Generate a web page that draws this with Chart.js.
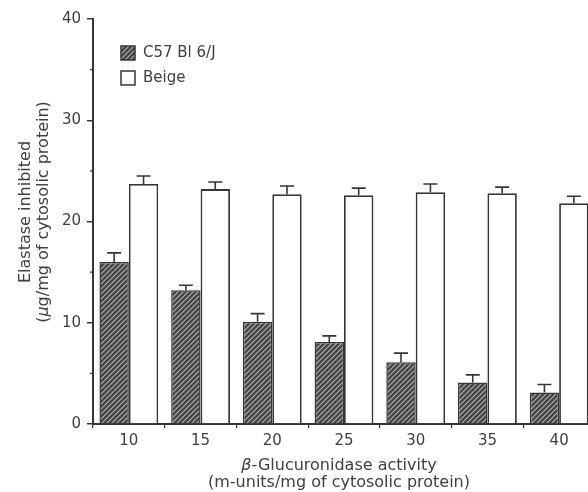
<!DOCTYPE html>
<html>
<head>
<meta charset="utf-8">
<script src="https://cdn.jsdelivr.net/npm/chart.js@4"></script>
<style>
    html, body { margin: 0; padding: 0; background: #fff; overflow: hidden; }
    #wrap { width: 600px; height: 492px; }
</style>
</head>
<body>
<div id="wrap"><canvas id="chart" width="600" height="492"></canvas></div>
<script>
const doses = ['10', '15', '20', '25', '30', '35', '40'];
const c57Values = [16.0, 13.2, 10.1, 8.1, 6.1, 4.1, 3.1];
const c57Errors = [0.9, 0.5, 0.8, 0.6, 0.9, 0.75, 0.8];
const beigeValues = [23.7, 23.2, 22.7, 22.6, 22.9, 22.8, 21.8];
const beigeErrors = [0.8, 0.7, 0.8, 0.7, 0.8, 0.6, 0.7];
const minorTicks = [5, 15, 25, 35];

const INK = '#363636';
const TEXT = '#3f3f3f';
const FONT = 'DejaVu Sans';

function makeHatch() {
    const n = 5;
    const c = document.createElement('canvas');
    c.width = n; c.height = n;
    const g = c.getContext('2d');
    g.fillStyle = '#444444';
    g.fillRect(0, 0, n, n);
    g.strokeStyle = '#b4b4b4';
    g.lineWidth = 1.1;
    g.beginPath();
    g.moveTo(-1, n + 1); g.lineTo(n + 1, -1);
    g.moveTo(-1, 1); g.lineTo(1, -1);
    g.moveTo(n - 1, n + 1); g.lineTo(n + 1, n - 1);
    g.stroke();
    return g.createPattern(c, 'repeat');
}

const hatch = makeHatch();

// draws text pieces (some italic) centred on cx, cy
function drawRich(ctx, parts, cx, cy, size) {
    let total = 0;
    parts.forEach(([t, it]) => {
        ctx.font = `${it ? 'italic ' : ''}${size}px "${FONT}"`;
        total += ctx.measureText(t).width;
    });
    let x = cx - total / 2;
    ctx.textAlign = 'left';
    ctx.textBaseline = 'middle';
    parts.forEach(([t, it]) => {
        ctx.font = `${it ? 'italic ' : ''}${size}px "${FONT}"`;
        ctx.fillText(t, x, cy);
        x += ctx.measureText(t).width;
    });
}

const errorBars = {
    id: 'errorBars',
    afterDatasetsDraw(chart) {
        const ctx = chart.ctx;
        const y = chart.scales.y;
        ctx.save();
        ctx.strokeStyle = INK;
        ctx.lineWidth = 1.6;
        chart.data.datasets.forEach((ds, i) => {
            chart.getDatasetMeta(i).data.forEach((bar, j) => {
                const top = y.getPixelForValue(ds.data[j] + ds.errors[j]);
                ctx.beginPath();
                ctx.moveTo(bar.x, bar.y);
                ctx.lineTo(bar.x, top);
                ctx.moveTo(bar.x - 7, top);
                ctx.lineTo(bar.x + 7, top);
                ctx.stroke();
            });
        });
        ctx.restore();
    }
};

const extras = {
    id: 'extras',
    afterDraw(chart) {
        const ctx = chart.ctx;
        const y = chart.scales.y;
        const area = chart.chartArea;
        ctx.save();

        // minor ticks on the y axis
        ctx.strokeStyle = INK;
        ctx.lineWidth = 1.2;
        minorTicks.forEach((v) => {
            const py = y.getPixelForValue(v);
            ctx.beginPath();
            ctx.moveTo(area.left - 3, py);
            ctx.lineTo(area.left, py);
            ctx.stroke();
        });

        // legend
        ctx.lineWidth = 1.5;
        ctx.fillStyle = hatch;
        ctx.fillRect(121, 46, 14, 14);
        ctx.strokeRect(121, 46, 14, 14);
        ctx.fillStyle = '#fff';
        ctx.fillRect(121, 71, 14, 14);
        ctx.strokeRect(121, 71, 14, 14);
        ctx.fillStyle = TEXT;
        ctx.font = `15px "${FONT}"`;
        ctx.textAlign = 'left';
        ctx.textBaseline = 'middle';
        ctx.fillText('C57 Bl 6/J', 143, 53);
        ctx.fillText('Beige', 143, 78);

        // x axis title
        const cx = (area.left + area.right) / 2 - 5;
        drawRich(ctx, [['β', true], ['-Glucuronidase activity', false]], cx, 466, 16);
        drawRich(ctx, [['(m-units/mg of cytosolic protein)', false]], cx, 483, 16);

        // y axis title
        ctx.save();
        ctx.translate(0, 212);
        ctx.rotate(-Math.PI / 2);
        drawRich(ctx, [['Elastase inhibited', false]], 0, 26, 16);
        drawRich(ctx, [['(', false], ['μ', true], ['g/mg of cytosolic protein)', false]], 0, 44, 16);
        ctx.restore();

        ctx.restore();
    }
};

const ctx = document.getElementById('chart').getContext('2d');

new Chart(ctx, {
    type: 'bar',
    data: {
        labels: doses,
        datasets: [
            {
                label: 'C57 Bl 6/J',
                data: c57Values,
                errors: c57Errors,
                backgroundColor: hatch,
                borderColor: INK,
                borderWidth: 1.5,
                categoryPercentage: 0.82,
                barPercentage: 1.0
            },
            {
                label: 'Beige',
                data: beigeValues,
                errors: beigeErrors,
                backgroundColor: '#ffffff',
                borderColor: INK,
                borderWidth: 1.8,
                categoryPercentage: 0.82,
                barPercentage: 1.0
            }
        ]
    },
    options: {
        responsive: false,
        animation: false,
        events: [],
        layout: {
            padding: { top: 19, right: 5, left: 0, bottom: 0 }
        },
        plugins: {
            legend: { display: false },
            tooltip: { enabled: false }
        },
        scales: {
            x: {
                afterFit: (s) => { s.height = 68; },
                border: { display: true, color: INK, width: 2 },
                grid: {
                    display: true,
                    offset: true,
                    drawOnChartArea: false,
                    drawTicks: true,
                    tickLength: 4,
                    color: INK,
                    lineWidth: 1.2
                },
                ticks: {
                    color: TEXT,
                    padding: 4,
                    font: { family: FONT, size: 15 }
                }
            },
            y: {
                min: 0,
                max: 40,
                afterFit: (s) => { s.width = 93; },
                border: { display: true, color: INK, width: 2 },
                grid: {
                    display: true,
                    drawOnChartArea: false,
                    drawTicks: true,
                    tickLength: 6,
                    color: INK,
                    lineWidth: 1.5
                },
                ticks: {
                    stepSize: 10,
                    color: TEXT,
                    padding: 6,
                    font: { family: FONT, size: 15 }
                }
            }
        }
    },
    plugins: [errorBars, extras]
});
</script>
</body>
</html>
